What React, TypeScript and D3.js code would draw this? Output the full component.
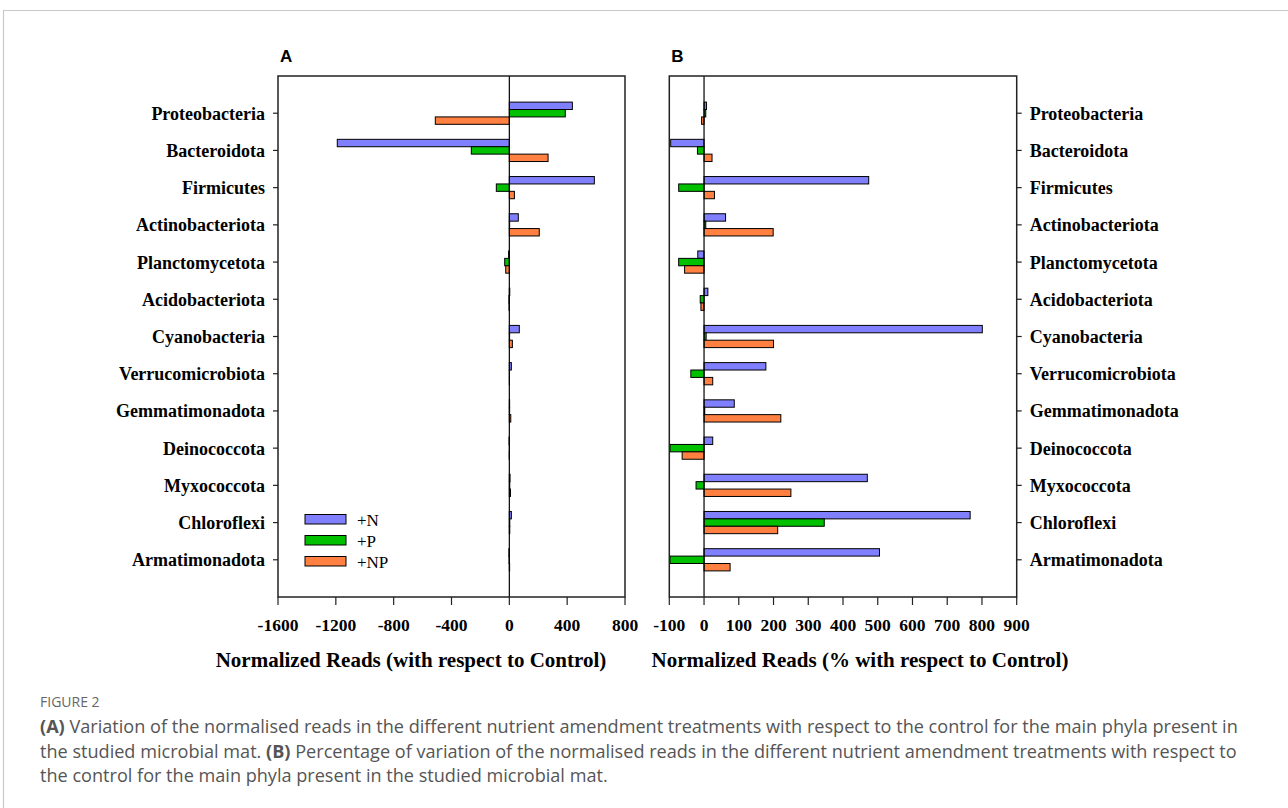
import React from 'react';
import * as d3 from 'd3';

// phyla, top to bottom
const categories = [
  'Proteobacteria', 'Bacteroidota', 'Firmicutes', 'Actinobacteriota', 'Planctomycetota',
  'Acidobacteriota', 'Cyanobacteria', 'Verrucomicrobiota', 'Gemmatimonadota', 'Deinococcota',
  'Myxococcota', 'Chloroflexi', 'Armatimonadota',
];
const seriesNames = ['+N', '+P', '+NP'];
const seriesColors = ['#8080FF', '#00C000', '#FF8040'];

// Panel A: normalized reads (difference vs control)
const readsN = [436, -1190, 588, 62, -5, 3, 69, 14, 2, -2, 5, 14, -3];
const readsP = [387, -263, -90, 2, -32, -3, 2, 1, 2, 1, 3, 3, -2];
const readsNP = [-512, 268, 35, 207, -25, -2, 21, 1, 10, -1, 8, 3, 2];

// Panel B: % variation vs control
const pctN = [7, -96, 474, 62, -18, 11, 801, 178, 87, 25, 470, 766, 505];
const pctP = [5, -19, -73, 5, -73, -11, 6, -38, 2, -98, -23, 346, -98];
const pctNP = [-7, 23, 30, 199, -56, -9, 200, 25, 221, -63, 250, 212, 75];

const ticksA = [-1600, -1200, -800, -400, 0, 400, 800];
const ticksB = [-100, 0, 100, 200, 300, 400, 500, 600, 700, 800, 900];

const serif = '"Liberation Serif", "Times New Roman", serif';
const sans = '"Liberation Sans", Arial, sans-serif';
const captionFont = '"Open Sans", "Noto Sans", sans-serif';

const TOP = 76;
const BOTTOM = 597;

const Panel = ({ x0, x1, domain, ticks, series, labelSide, letter, title, titleX, legend }: any) => {
  const x = d3.scaleLinear().domain(domain).range([x0, x1]);
  const y = d3.scalePoint<string>().domain(categories).range([TOP, BOTTOM]).padding(1);
  const inner = d3.scaleBand<string>().domain(seriesNames).range([-11.1, 11.1]);

  return (
    <g fontFamily={serif}>
      <text x={x0 + 2} y={62} fontFamily={sans} fontWeight="bold" fontSize={17}>{letter}</text>

      {/* bars */}
      {series.map((vals: number[], si: number) =>
        vals.map((v, i) => {
          const cy = (y(categories[i]) as number) + (inner(seriesNames[si]) as number);
          return (
            <rect
              key={`${si}-${i}`}
              x={Math.min(x(0), x(v))}
              y={cy}
              width={Math.abs(x(v) - x(0))}
              height={inner.bandwidth()}
              fill={seriesColors[si]}
              stroke="#000"
              strokeWidth={1}
            />
          );
        })
      )}

      {/* zero line */}
      <line x1={x(0)} x2={x(0)} y1={TOP} y2={BOTTOM} stroke="#000" strokeWidth={1.2} />

      {/* frame */}
      <rect x={x0} y={TOP} width={x1 - x0} height={BOTTOM - TOP} fill="none" stroke="#222" strokeWidth={1.5} />

      {/* bottom axis */}
      {ticks.map((t: number) => (
        <g key={t}>
          <line x1={x(t)} x2={x(t)} y1={BOTTOM} y2={BOTTOM + 8} stroke="#222" strokeWidth={1.2} />
          <text x={x(t)} y={630.5} fontSize={17.5} fontWeight="bold" textAnchor="middle">{t}</text>
        </g>
      ))}

      {/* category axis */}
      {categories.map((c) => {
        const cy = y(c) as number;
        const edge = labelSide === 'left' ? x0 : x1;
        const dir = labelSide === 'left' ? -1 : 1;
        return (
          <g key={c}>
            <line x1={edge} x2={edge + dir * 5} y1={cy} y2={cy} stroke="#222" strokeWidth={1.2} />
            <text
              x={labelSide === 'left' ? x0 - 13 : x1 + 13}
              y={cy + 6.5}
              fontSize={18}
              fontWeight="bold"
              textAnchor={labelSide === 'left' ? 'end' : 'start'}
            >
              {c}
            </text>
          </g>
        );
      })}

      <text x={titleX} y={667} fontSize={21} fontWeight="bold" textAnchor="middle">{title}</text>

      {legend &&
        seriesNames.map((s, si) => (
          <g key={s} transform={`translate(305,${514.5 + si * 21})`}>
            <rect width={41} height={9.5} fill={seriesColors[si]} stroke="#000" strokeWidth={1} />
            <text x={52} y={11} fontSize={17}>{s}</text>
          </g>
        ))}
    </g>
  );
};

const captionLines = [
  [['(A)', true], [' Variation of the normalised reads in the different nutrient amendment treatments with respect to the control for the main phyla present in', false]],
  [['the studied microbial mat. ', false], ['(B)', true], [' Percentage of variation of the normalised reads in the different nutrient amendment treatments with respect to', false]],
  [['the control for the main phyla present in the studied microbial mat.', false]],
];

export default function App() {
  return (
    <svg
      width={1288}
      height={808}
      style={{ position: 'absolute', left: 0, top: 0, display: 'block', background: '#fff' }}
    >
      {/* card border */}
      <path d="M3.5,808 V10.5 H1288" fill="none" stroke="#c8c8c8" strokeWidth={1.2} />

      <Panel
        x0={278}
        x1={625}
        domain={[-1600, 800]}
        ticks={ticksA}
        series={[readsN, readsP, readsNP]}
        labelSide="left"
        letter="A"
        title="Normalized Reads (with respect to Control)"
        titleX={411}
        legend
      />
      <Panel
        x0={669.3}
        x1={1016.7}
        domain={[-100, 900]}
        ticks={ticksB}
        series={[pctN, pctP, pctNP]}
        labelSide="right"
        letter="B"
        title="Normalized Reads (% with respect to Control)"
        titleX={860}
      />

      <text x={40} y={707} fontFamily={captionFont} fontSize={14} fill="#666">FIGURE 2</text>
      {captionLines.map((line, li) => (
        <text key={li} x={40} y={733 + li * 24.5} fontFamily={captionFont} fontSize={18.1} fill="#555">
          {line.map(([txt, bold], k) => (
            <tspan key={k} fontWeight={bold ? 'bold' : 'normal'} style={{ whiteSpace: 'pre' }}>{txt as string}</tspan>
          ))}
        </text>
      ))}
    </svg>
  );
}
